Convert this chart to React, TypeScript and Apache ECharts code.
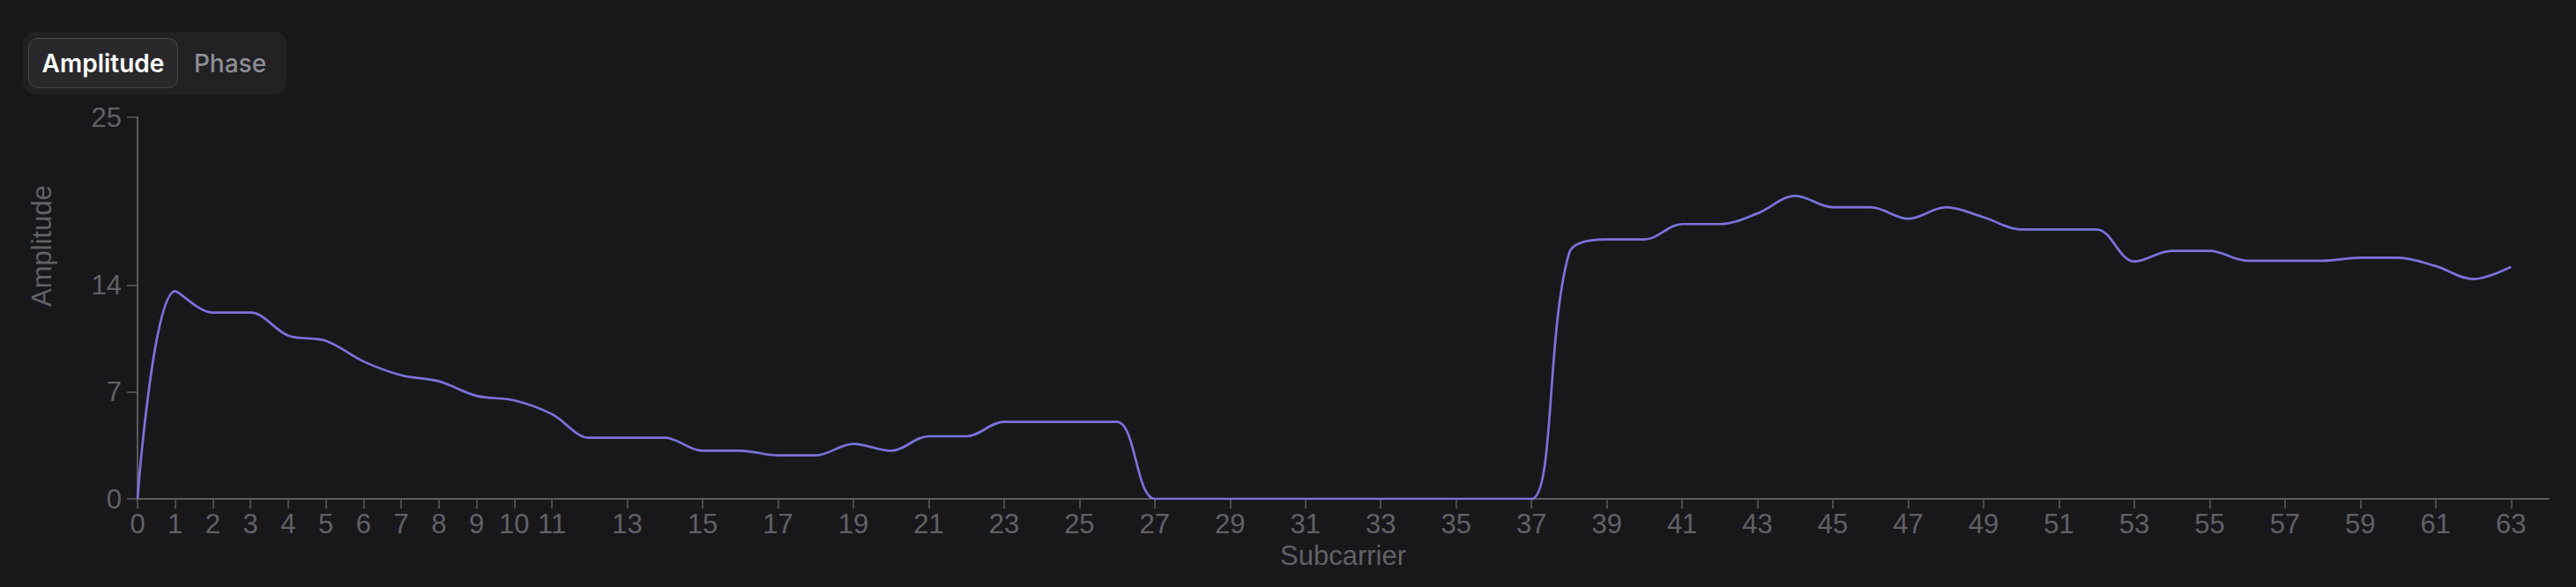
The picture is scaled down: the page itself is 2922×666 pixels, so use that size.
import React, { useEffect, useRef } from "react";
import * as echarts from "echarts";

const subcarriers = [
  0, 1, 2, 3, 4, 5, 6, 7, 8, 9, 10, 11, 12, 13, 14, 15, 16, 17, 18, 19, 20, 21,
  22, 23, 24, 25, 26, 27, 28, 29, 30, 31, 32, 33, 34, 35, 36, 37, 38, 39, 40,
  41, 42, 43, 44, 45, 46, 47, 48, 49, 50, 51, 52, 53, 54, 55, 56, 57, 58, 59,
  60, 61, 62, 63,
];

const amplitude = [
  0, 13.6, 12.2, 12.2, 10.7, 10.35, 9.0, 8.1, 7.7, 6.75, 6.45, 5.55, 4.0, 4.0,
  4.0, 3.15, 3.15, 2.85, 2.85, 3.6, 3.15, 4.1, 4.1, 5.05, 5.05, 5.05, 5.05, 0,
  0, 0, 0, 0, 0, 0, 0, 0, 0, 0, 16.1, 17.0, 17.0, 18.0, 18.0, 18.7, 19.85,
  19.1, 19.1, 18.35, 19.1, 18.45, 17.65, 17.65, 17.65, 15.55, 16.25, 16.25,
  15.6, 15.6, 15.6, 15.8, 15.8, 15.25, 14.4, 15.2,
];

const xTickLabels = [
  0, 1, 2, 3, 4, 5, 6, 7, 8, 9, 10, 11, 13, 15, 17, 19, 21, 23, 25, 27, 29, 31,
  33, 35, 37, 39, 41, 43, 45, 47, 49, 51, 53, 55, 57, 59, 61, 63,
];
const yTickLabels = [0, 7, 14, 25];

const BG = "#18181b";
const AXIS = "#5b5b5f";
const LABEL = "#616165";
const LINE = "#7b72da";
const FONT = "'Liberation Sans', Arial, Helvetica, sans-serif";

export default function App() {
  const ref = useRef<HTMLDivElement>(null);

  useEffect(() => {
    document.body.style.margin = "0";
    document.body.style.background = BG;
    if (!ref.current) return;
    const chart = echarts.init(ref.current, null, { renderer: "svg" });
    chart.setOption({
      animation: false,
      backgroundColor: BG,
      grid: { left: 156, right: 31, top: 133, bottom: 100, containLabel: false },
      xAxis: {
        type: "value",
        min: 0,
        max: 64,
        name: "Subcarrier",
        nameLocation: "middle",
        nameGap: 43,
        nameTextStyle: { color: LABEL, fontSize: 31, fontFamily: FONT },
        axisLine: { show: true, lineStyle: { color: AXIS, width: 2 } },
        axisTick: {
          show: true,
          customValues: xTickLabels,
          length: 11,
          lineStyle: { color: AXIS, width: 1.5 },
        },
        axisLabel: {
          customValues: xTickLabels,
          color: LABEL,
          fontSize: 31,
          fontFamily: FONT,
          margin: 13,
        },
        splitLine: { show: false },
      },
      yAxis: {
        type: "value",
        min: 0,
        max: 25,
        axisLine: { show: true, lineStyle: { color: AXIS, width: 2 } },
        axisTick: {
          show: true,
          customValues: yTickLabels,
          length: 12,
          lineStyle: { color: AXIS, width: 1.5 },
        },
        axisLabel: {
          customValues: yTickLabels,
          color: LABEL,
          fontSize: 31,
          fontFamily: FONT,
          margin: 18,
        },
        splitLine: { show: false },
      },
      graphic: [
        {
          type: "text",
          x: 47,
          y: 279,
          rotation: Math.PI / 2,
          style: {
            text: "Amplitude",
            fill: LABEL,
            fontSize: 31,
            fontFamily: FONT,
            align: "center",
            verticalAlign: "middle",
          },
        },
      ],
      series: [
        {
          type: "line",
          data: subcarriers.map((s, i) => [s, amplitude[i]]),
          smooth: 0.35,
          showSymbol: false,
          symbol: "none",
          lineStyle: { color: LINE, width: 2.7 },
        },
      ],
    });
    return () => chart.dispose();
  }, []);

  return (
    <div
      style={{
        position: "absolute",
        left: 0,
        top: 0,
        width: 2922,
        height: 666,
        background: BG,
        overflow: "hidden",
      }}
    >
      <div ref={ref} style={{ position: "absolute", left: 0, top: 0, width: 2922, height: 666 }} />
      <div
        style={{
          position: "absolute",
          left: 26,
          top: 36,
          width: 299,
          height: 71,
          borderRadius: 14,
          background: "#212124",
          boxSizing: "border-box",
          fontFamily: "Inter, 'Noto Sans', sans-serif",
          fontSize: 28,
        }}
      >
        <div
          style={{
            position: "absolute",
            left: 6,
            top: 7,
            width: 170,
            height: 57,
            borderRadius: 11,
            background: "#29292c",
            border: "1.5px solid #47474b",
            boxSizing: "border-box",
            color: "#ffffff",
            fontWeight: 600,
            display: "flex",
            alignItems: "center",
            justifyContent: "center",
          }}
        >
          Amplitude
        </div>
        <div
          style={{
            position: "absolute",
            left: 186,
            top: 7,
            width: 98,
            height: 57,
            color: "#8e8e93",
            fontWeight: 500,
            display: "flex",
            alignItems: "center",
            justifyContent: "center",
          }}
        >
          Phase
        </div>
      </div>
    </div>
  );
}
